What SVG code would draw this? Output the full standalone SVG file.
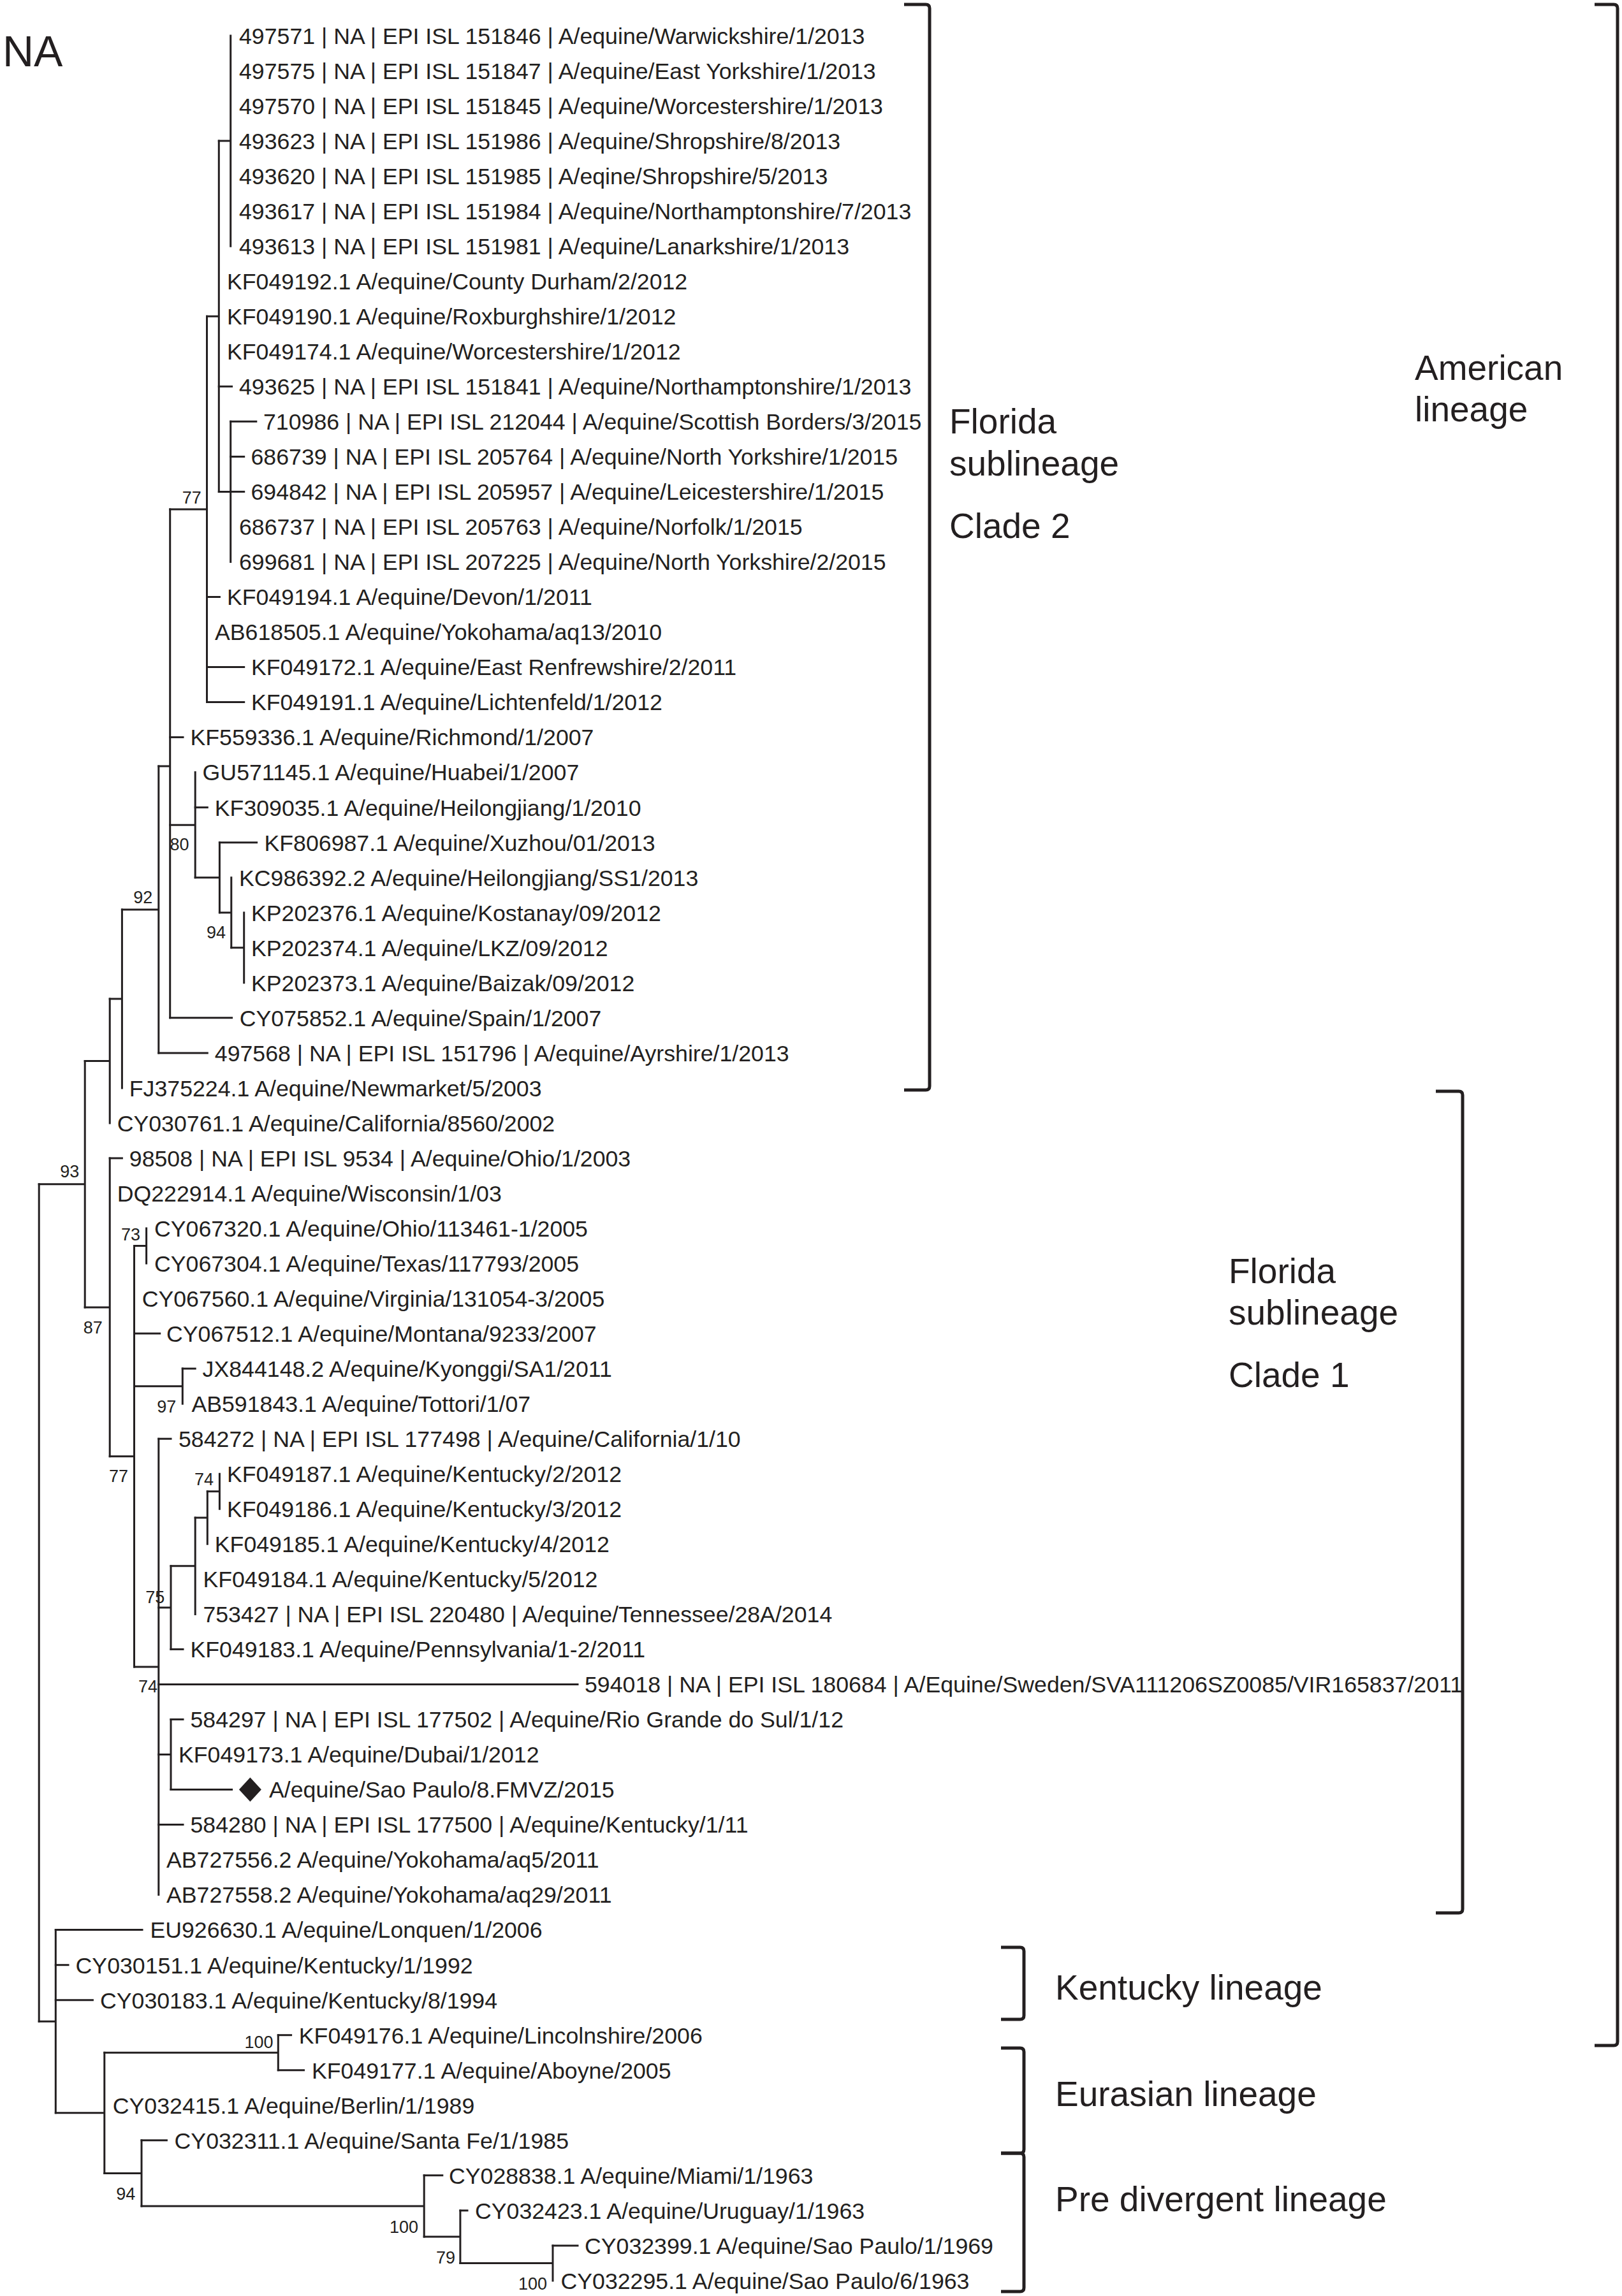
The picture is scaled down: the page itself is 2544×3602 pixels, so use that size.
<svg xmlns="http://www.w3.org/2000/svg" width="2544" height="3602" viewBox="0 0 2544 3602">
<style>
text{font-family:"Liberation Sans",Arial,Helvetica,sans-serif;fill:#231f20}
.t{font-size:35.7px}
.b{font-size:27px;text-anchor:end}
.lab{font-size:55px}
.title{font-size:68px}
.br{fill:none;stroke:#231f20;stroke-width:3;stroke-linecap:square}
.bk{fill:none;stroke:#231f20;stroke-width:5}
</style>
<rect width="2544" height="3602" fill="#fff"/>
<text class="title" x="4" y="104">NA</text>

<g id="connectors" class="br">
<path d="M61.2 1857.7V3171.2"/>
<path d="M61.2 1857.7H133.2M133.2 1664.5V2050.9"/>
<path d="M133.2 1664.5H172.2M172.2 1567V1761.9"/>
<path d="M172.2 1567H191.4M191.4 1427V1706.9"/>
<path d="M191.4 1427H248.8M248.8 1202V1651.9"/>
<path d="M248.8 1202H266.7M266.7 798.9V1596.8"/>
<path d="M266.7 798.9H324.5M324.5 496.2V1101.6"/>
<path d="M324.5 496.2H343.3M343.3 221.1V771.4"/>
<path d="M343.3 221.1H361.7M361.7 56V386.2"/>
<path d="M343.3 771.4H361.7M361.7 661.3V881.5"/>
<path d="M266.7 1294.2H306.2M306.2 1211.6V1376.7"/>
<path d="M306.2 1376.7H344.4M344.4 1321.7V1431.8"/>
<path d="M344.4 1431.8H362.8M362.8 1376.7V1486.8"/>
<path d="M362.8 1486.8H382.7M382.7 1431.8V1541.8"/>
<path d="M133.2 2050.9H172.2M172.2 1817V2284.7"/>
<path d="M172.2 2284.7H210.5M210.5 1954.5V2614.9"/>
<path d="M210.5 1954.5H229.6M229.6 1927V1982.1"/>
<path d="M210.5 2174.7H286.3M286.3 2147.1V2202.2"/>
<path d="M210.5 2614.9H248.8M248.8 2257.2V2972.6"/>
<path d="M248.8 2522H268M268 2456.7V2587.4"/>
<path d="M268 2456.7H306.2M306.2 2381V2532.4"/>
<path d="M306.2 2381H325.3M325.3 2339.7V2422.3"/>
<path d="M325.3 2339.7H344.4M344.4 2312.2V2367.3"/>
<path d="M248.8 2752.5H268M268 2697.4V2807.5"/>
<path d="M61.2 3171.2H87.3M87.3 3027.6V3314.8"/>
<path d="M87.3 3314.8H163.8M163.8 3220.2V3409.4"/>
<path d="M163.8 3220.2H436.3M436.3 3192.7V3247.7"/>
<path d="M163.8 3409.4H222M222 3357.8V3461"/>
<path d="M222 3461H665.2M665.2 3412.8V3509.1"/>
<path d="M665.2 3509.1H721.9M721.9 3467.9V3550.4"/>
<path d="M721.9 3550.4H867M867 3522.9V3577.9"/>
<path d="M343.3 606.3H363.6"/>
<path d="M361.7 661.3H401.8"/>
<path d="M361.7 716.4H382.7"/>
<path d="M361.7 771.4H382.7"/>
<path d="M324.5 936.5H344.4"/>
<path d="M324.5 1046.5H382.7"/>
<path d="M324.5 1101.6H382.7"/>
<path d="M266.7 1156.6H287"/>
<path d="M306.2 1266.7H325.3"/>
<path d="M344.4 1321.7H402.6"/>
<path d="M266.7 1596.8H363.6"/>
<path d="M248.8 1651.9H325.3"/>
<path d="M172.2 1817H191.4"/>
<path d="M210.5 2092.1H250.7"/>
<path d="M286.3 2147.1H306.2"/>
<path d="M248.8 2257.2H268"/>
<path d="M268 2587.4H287"/>
<path d="M248.8 2642.4H906"/>
<path d="M268 2697.4H287"/>
<path d="M268 2807.5H363.6"/>
<path d="M248.8 2862.5H287"/>
<path d="M87.3 3027.6H223"/>
<path d="M87.3 3082.7H107"/>
<path d="M87.3 3137.7H145.4"/>
<path d="M436.3 3192.7H456.6"/>
<path d="M436.3 3247.7H476.5"/>
<path d="M222 3357.8H261.4"/>
<path d="M665.2 3412.8H693.8"/>
<path d="M721.9 3467.9H733"/>
<path d="M867 3522.9H906"/>
</g>

<g id="bootstrap">
<text class="b" x="315.7" y="790">77</text>
<text class="b" x="296.6" y="1334">80</text>
<text class="b" x="354" y="1472">94</text>
<text class="b" x="239.2" y="1417">92</text>
<text class="b" x="124.4" y="1847">93</text>
<text class="b" x="160.7" y="2092">87</text>
<text class="b" x="220" y="1946">73</text>
<text class="b" x="276.3" y="2216">97</text>
<text class="b" x="201" y="2325">77</text>
<text class="b" x="335" y="2330">74</text>
<text class="b" x="258.3" y="2515">75</text>
<text class="b" x="247" y="2655">74</text>
<text class="b" x="428.6" y="3213">100</text>
<text class="b" x="212.4" y="3451">94</text>
<text class="b" x="656" y="3503">100</text>
<text class="b" x="714" y="3551">79</text>
<text class="b" x="858" y="3592">100</text>
</g>

<g id="leaves" class="t">
<g id="leaf01"><text class="t" x="375" y="68.8">497571 | NA | EPI ISL 151846 | A/equine/Warwickshire/1/2013</text></g>
<g id="leaf02"><text class="t" x="375" y="123.8">497575 | NA | EPI ISL 151847 | A/equine/East Yorkshire/1/2013</text></g>
<g id="leaf03"><text class="t" x="375" y="178.9">497570 | NA | EPI ISL 151845 | A/equine/Worcestershire/1/2013</text></g>
<g id="leaf04"><text class="t" x="375" y="233.9">493623 | NA | EPI ISL 151986 | A/equine/Shropshire/8/2013</text></g>
<g id="leaf05"><text class="t" x="375" y="288.9">493620 | NA | EPI ISL 151985 | A/eqine/Shropshire/5/2013</text></g>
<g id="leaf06"><text class="t" x="375" y="344">493617 | NA | EPI ISL 151984 | A/equine/Northamptonshire/7/2013</text></g>
<g id="leaf07"><text class="t" x="375" y="399">493613 | NA | EPI ISL 151981 | A/equine/Lanarkshire/1/2013</text></g>
<g id="leaf08"><text class="t" x="356" y="454">KF049192.1 A/equine/County Durham/2/2012</text></g>
<g id="leaf09"><text class="t" x="356" y="509">KF049190.1 A/equine/Roxburghshire/1/2012</text></g>
<g id="leaf10"><text class="t" x="356" y="564.1">KF049174.1 A/equine/Worcestershire/1/2012</text></g>
<g id="leaf11"><text class="t" x="375" y="619.1">493625 | NA | EPI ISL 151841 | A/equine/Northamptonshire/1/2013</text></g>
<g id="leaf12"><text class="t" x="413" y="674.1">710986 | NA | EPI ISL 212044 | A/equine/Scottish Borders/3/2015</text></g>
<g id="leaf13"><text class="t" x="393.5" y="729.2">686739 | NA | EPI ISL 205764 | A/equine/North Yorkshire/1/2015</text></g>
<g id="leaf14"><text class="t" x="393.5" y="784.2">694842 | NA | EPI ISL 205957 | A/equine/Leicestershire/1/2015</text></g>
<g id="leaf15"><text class="t" x="375" y="839.2">686737 | NA | EPI ISL 205763 | A/equine/Norfolk/1/2015</text></g>
<g id="leaf16"><text class="t" x="375" y="894.3">699681 | NA | EPI ISL 207225 | A/equine/North Yorkshire/2/2015</text></g>
<g id="leaf17"><text class="t" x="356" y="949.3">KF049194.1 A/equine/Devon/1/2011</text></g>
<g id="leaf18"><text class="t" x="337" y="1004.3">AB618505.1 A/equine/Yokohama/aq13/2010</text></g>
<g id="leaf19"><text class="t" x="394" y="1059.3">KF049172.1 A/equine/East Renfrewshire/2/2011</text></g>
<g id="leaf20"><text class="t" x="394" y="1114.4">KF049191.1 A/equine/Lichtenfeld/1/2012</text></g>
<g id="leaf21"><text class="t" x="298.5" y="1169.4">KF559336.1 A/equine/Richmond/1/2007</text></g>
<g id="leaf22"><text class="t" x="317.6" y="1224.4">GU571145.1 A/equine/Huabei/1/2007</text></g>
<g id="leaf23"><text class="t" x="336.8" y="1279.5">KF309035.1 A/equine/Heilongjiang/1/2010</text></g>
<g id="leaf24"><text class="t" x="414.5" y="1334.5">KF806987.1 A/equine/Xuzhou/01/2013</text></g>
<g id="leaf25"><text class="t" x="375" y="1389.5">KC986392.2 A/equine/Heilongjiang/SS1/2013</text></g>
<g id="leaf26"><text class="t" x="394" y="1444.6">KP202376.1 A/equine/Kostanay/09/2012</text></g>
<g id="leaf27"><text class="t" x="394" y="1499.6">KP202374.1 A/equine/LKZ/09/2012</text></g>
<g id="leaf28"><text class="t" x="394" y="1554.6">KP202373.1 A/equine/Baizak/09/2012</text></g>
<g id="leaf29"><text class="t" x="375.8" y="1609.6">CY075852.1 A/equine/Spain/1/2007</text></g>
<g id="leaf30"><text class="t" x="336.8" y="1664.7">497568 | NA | EPI ISL 151796 | A/equine/Ayrshire/1/2013</text></g>
<g id="leaf31"><text class="t" x="202.8" y="1719.7">FJ375224.1 A/equine/Newmarket/5/2003</text></g>
<g id="leaf32"><text class="t" x="183.7" y="1774.7">CY030761.1 A/equine/California/8560/2002</text></g>
<g id="leaf33"><text class="t" x="202.8" y="1829.8">98508 | NA | EPI ISL 9534 | A/equine/Ohio/1/2003</text></g>
<g id="leaf34"><text class="t" x="183.7" y="1884.8">DQ222914.1 A/equine/Wisconsin/1/03</text></g>
<g id="leaf35"><text class="t" x="242" y="1939.8">CY067320.1 A/equine/Ohio/113461-1/2005</text></g>
<g id="leaf36"><text class="t" x="242" y="1994.9">CY067304.1 A/equine/Texas/117793/2005</text></g>
<g id="leaf37"><text class="t" x="222.7" y="2049.9">CY067560.1 A/equine/Virginia/131054-3/2005</text></g>
<g id="leaf38"><text class="t" x="261" y="2104.9">CY067512.1 A/equine/Montana/9233/2007</text></g>
<g id="leaf39"><text class="t" x="317.6" y="2159.9">JX844148.2 A/equine/Kyonggi/SA1/2011</text></g>
<g id="leaf40"><text class="t" x="300.4" y="2215">AB591843.1 A/equine/Tottori/1/07</text></g>
<g id="leaf41"><text class="t" x="280" y="2270">584272 | NA | EPI ISL 177498 | A/equine/California/1/10</text></g>
<g id="leaf42"><text class="t" x="356" y="2325">KF049187.1 A/equine/Kentucky/2/2012</text></g>
<g id="leaf43"><text class="t" x="356" y="2380.1">KF049186.1 A/equine/Kentucky/3/2012</text></g>
<g id="leaf44"><text class="t" x="336.8" y="2435.1">KF049185.1 A/equine/Kentucky/4/2012</text></g>
<g id="leaf45"><text class="t" x="318.4" y="2490.1">KF049184.1 A/equine/Kentucky/5/2012</text></g>
<g id="leaf46"><text class="t" x="318.4" y="2545.2">753427 | NA | EPI ISL 220480 | A/equine/Tennessee/28A/2014</text></g>
<g id="leaf47"><text class="t" x="298.5" y="2600.2">KF049183.1 A/equine/Pennsylvania/1-2/2011</text></g>
<g id="leaf48"><text class="t" x="917" y="2655.2">594018 | NA | EPI ISL 180684 | A/Equine/Sweden/SVA111206SZ0085/VIR165837/2011</text></g>
<g id="leaf49"><text class="t" x="298.5" y="2710.2">584297 | NA | EPI ISL 177502 | A/equine/Rio Grande do Sul/1/12</text></g>
<g id="leaf50"><text class="t" x="280" y="2765.3">KF049173.1 A/equine/Dubai/1/2012</text></g>
<g id="leaf51"><path d="M392.4 2788.5L409.9 2807.5L392.4 2826.5L374.9 2807.5Z" fill="#231f20"/><text class="t" x="422" y="2820.3">A/equine/Sao Paulo/8.FMVZ/2015</text></g>
<g id="leaf52"><text class="t" x="298.5" y="2875.3">584280 | NA | EPI ISL 177500 | A/equine/Kentucky/1/11</text></g>
<g id="leaf53"><text class="t" x="261" y="2930.4">AB727556.2 A/equine/Yokohama/aq5/2011</text></g>
<g id="leaf54"><text class="t" x="261" y="2985.4">AB727558.2 A/equine/Yokohama/aq29/2011</text></g>
<g id="leaf55"><text class="t" x="235.4" y="3040.4">EU926630.1 A/equine/Lonquen/1/2006</text></g>
<g id="leaf56"><text class="t" x="118.6" y="3095.5">CY030151.1 A/equine/Kentucky/1/1992</text></g>
<g id="leaf57"><text class="t" x="157" y="3150.5">CY030183.1 A/equine/Kentucky/8/1994</text></g>
<g id="leaf58"><text class="t" x="468.8" y="3205.5">KF049176.1 A/equine/Lincolnshire/2006</text></g>
<g id="leaf59"><text class="t" x="489" y="3260.5">KF049177.1 A/equine/Aboyne/2005</text></g>
<g id="leaf60"><text class="t" x="176.8" y="3315.6">CY032415.1 A/equine/Berlin/1/1989</text></g>
<g id="leaf61"><text class="t" x="273.6" y="3370.6">CY032311.1 A/equine/Santa Fe/1/1985</text></g>
<g id="leaf62"><text class="t" x="704" y="3425.6">CY028838.1 A/equine/Miami/1/1963</text></g>
<g id="leaf63"><text class="t" x="745" y="3480.7">CY032423.1 A/equine/Uruguay/1/1963</text></g>
<g id="leaf64"><text class="t" x="917" y="3535.7">CY032399.1 A/equine/Sao Paulo/1/1969</text></g>
<g id="leaf65"><text class="t" x="879.5" y="3590.7">CY032295.1 A/equine/Sao Paulo/6/1963</text></g>
</g>

<g id="clade2">
<path class="bk" d="M1418 7H1452Q1458 7 1458 13V1704Q1458 1710 1452 1710H1418"/>
<text class="lab" x="1489" y="680">Florida</text>
<text class="lab" x="1489" y="746">sublineage</text>
<text class="lab" x="1489" y="844">Clade 2</text>
</g>
<g id="american">
<path class="bk" d="M2501 7H2531Q2537 7 2537 13V3203Q2537 3209 2531 3209H2501"/>
<text class="lab" x="2219" y="596">American</text>
<text class="lab" x="2219" y="661">lineage</text>
</g>
<g id="clade1">
<path class="bk" d="M2252 1712H2288Q2294 1712 2294 1718V2995Q2294 3001 2288 3001H2252"/>
<text class="lab" x="1927" y="2013">Florida</text>
<text class="lab" x="1927" y="2078">sublineage</text>
<text class="lab" x="1927" y="2176">Clade 1</text>
</g>
<g id="kentucky">
<path class="bk" d="M1570 3055H1600Q1606 3055 1606 3061V3162Q1606 3168 1600 3168H1570"/>
<text class="lab" x="1655" y="3137">Kentucky lineage</text>
</g>
<g id="eurasian">
<path class="bk" d="M1570 3213H1600Q1606 3213 1606 3219V3372Q1606 3378 1600 3378H1570"/>
<text class="lab" x="1655" y="3304">Eurasian lineage</text>
</g>
<g id="predivergent">
<path class="bk" d="M1570 3378H1600Q1606 3378 1606 3384V3589Q1606 3595 1600 3595H1570"/>
<text class="lab" x="1655" y="3469">Pre divergent lineage</text>
</g>
</svg>
